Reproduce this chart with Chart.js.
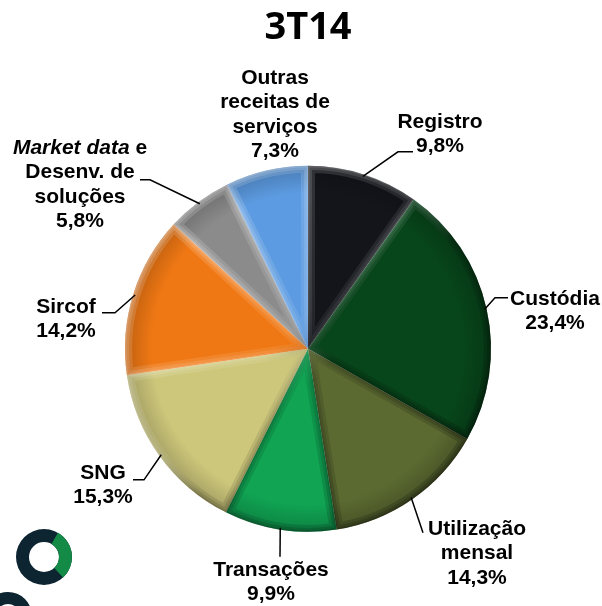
<!DOCTYPE html>
<html>
<head>
<meta charset="utf-8">
<script src="https://cdn.jsdelivr.net/npm/chart.js@4"></script>
<style>
  body { margin: 0; background: #fff; }
</style>
</head>
<body>
<canvas id="chart3T14" width="602" height="606"></canvas>
<script>
  // dados do gráfico (participação na receita, %)
  const categories = ['Registro', 'Custódia', 'Utilização mensal', 'Transações', 'SNG', 'Sircof',
    'Market data e Desenv. de soluções', 'Outras receitas de serviços'];
  const shares = [9.8, 23.4, 14.3, 9.9, 15.3, 14.2, 5.8, 7.3];
  // texto dos rótulos, *...* = itálico
  const labelLines = [
    ['Registro'],
    ['Custódia'],
    ['Utilização', 'mensal'],
    ['Transações'],
    ['SNG'],
    ['Sircof'],
    ['*Market data* e', 'Desenv. de', 'soluções'],
    ['Outras', 'receitas de', 'serviços']
  ];

  const sliceColors = ['#13151b', '#07451a', '#5b6a31', '#10a453', '#cdc77b', '#f07814', '#8b8b8b', '#5c9be1'];

  // posição dos rótulos relativa ao centro da pizza (texto e linhas de chamada)
  const labelPos = [
    { tx: 132, ty: -227, line: [[90, -197], [105, -197]] },
    { tx: 247, ty: -50, line: [[187, -51], [200, -51]] },
    { tx: 169, ty: 180, line: [[115, 184]] },
    { tx: -37, ty: 221, line: [[-28, 208]] },
    { tx: -205, ty: 124, line: [[-164, 131], [-175, 131]] },
    { tx: -242, ty: -42, line: [[-193, -36], [-206, -36]] },
    { tx: -228, ty: -201, line: [[-158, -169], [-168, -169]] },
    { tx: -33, ty: -271, line: null }
  ];

  const fmt = v => v.toFixed(1).replace('.', ',') + '%';

  // efeito chanfrado nas fatias
  const bevelPlugin = {
    id: 'bevel',
    afterDatasetsDraw(chart) {
      const ctx = chart.ctx;
      const arcs = chart.getDatasetMeta(0).data;
      arcs.forEach(arc => {
        const { x, y, startAngle, endAngle, outerRadius: r } = arc;
        const path = () => {
          ctx.beginPath();
          ctx.moveTo(x, y);
          ctx.arc(x, y, r, startAngle, endAngle);
          ctx.closePath();
        };
        ctx.save();
        path();
        ctx.clip();
        const rad = ctx.createRadialGradient(x, y, r * 0.85, x, y, r);
        rad.addColorStop(0, 'rgba(0,0,0,0)');
        rad.addColorStop(1, 'rgba(0,0,0,0.2)');
        ctx.fillStyle = rad;
        ctx.fillRect(x - r, y - r, 2 * r, 2 * r);
        const lin = ctx.createLinearGradient(x - r, y - r, x + r, y + r);
        lin.addColorStop(0, 'rgba(255,255,255,0.5)');
        lin.addColorStop(0.45, 'rgba(255,255,255,0.2)');
        lin.addColorStop(0.55, 'rgba(0,0,0,0.25)');
        lin.addColorStop(1, 'rgba(0,0,0,0.5)');
        ctx.strokeStyle = lin;
        ctx.lineJoin = 'miter';
        [14, 8, 3].forEach(w => {
          ctx.globalAlpha = 0.4;
          ctx.lineWidth = w;
          path();
          ctx.stroke();
        });
        ctx.restore();
      });
    }
  };

  // rótulos externos com linhas de chamada
  const outLabels = {
    id: 'outLabels',
    afterDraw(chart) {
      const ctx = chart.ctx;
      const arcs = chart.getDatasetMeta(0).data;
      const lh = 24.5;
      const fontN = 'bold 21px "Liberation Sans", Arial, sans-serif';
      const fontI = 'italic bold 21px "Liberation Sans", Arial, sans-serif';
      ctx.save();
      arcs.forEach((arc, i) => {
        const { x, y, startAngle, endAngle, outerRadius: r } = arc;
        const p = labelPos[i];
        if (p.line) {
          const mid = (startAngle + endAngle) / 2;
          ctx.beginPath();
          ctx.moveTo(x + Math.cos(mid) * (r - 2), y + Math.sin(mid) * (r - 2));
          p.line.forEach(pt => ctx.lineTo(x + pt[0], y + pt[1]));
          ctx.strokeStyle = '#000';
          ctx.lineWidth = 1.5;
          ctx.stroke();
        }
        const lines = labelLines[i].concat([fmt(shares[i])]);
        ctx.fillStyle = '#000';
        ctx.textBaseline = 'middle';
        ctx.textAlign = 'left';
        lines.forEach((ln, k) => {
          const segs = ln.split('*').map((t, j) => ({ t, it: j % 2 === 1 })).filter(s => s.t);
          let total = 0;
          segs.forEach(s => { ctx.font = s.it ? fontI : fontN; s.w = ctx.measureText(s.t).width; total += s.w; });
          let cx = x + p.tx - total / 2;
          const cy = y + p.ty + k * lh;
          segs.forEach(s => {
            ctx.font = s.it ? fontI : fontN;
            ctx.fillText(s.t, cx, cy);
            cx += s.w;
          });
        });
      });
      ctx.restore();
    }
  };

  // logotipo no canto inferior esquerdo
  const logoPlugin = {
    id: 'logo',
    afterDraw(chart) {
      const ctx = chart.ctx;
      const ring = (cx, cy, ro, ri, a0, a1, color) => {
        ctx.beginPath();
        ctx.arc(cx, cy, ro, a0, a1);
        ctx.arc(cx, cy, ri, a1, a0, true);
        ctx.closePath();
        ctx.fillStyle = color;
        ctx.fill();
      };
      const d = Math.PI / 180;
      ctx.save();
      ring(44, 557, 28, 15, 0, 2 * Math.PI, '#0d2531');
      ring(44, 557, 28, 15, -60 * d, 47 * d, '#138a45');
      ring(8, 616, 24, 12, 0, 2 * Math.PI, '#0d2531');
      ctx.restore();
    }
  };

  const ctx = document.getElementById('chart3T14').getContext('2d');
  new Chart(ctx, {
    type: 'pie',
    data: {
      labels: categories,
      datasets: [{
        data: shares,
        backgroundColor: sliceColors,
        borderWidth: 0
      }]
    },
    options: {
      responsive: false,
      animation: false,
      layout: { padding: { left: 125, right: 111, top: 0, bottom: 74 } },
      plugins: {
        legend: { display: false },
        tooltip: { enabled: false },
        title: {
          display: true,
          text: '3T14',
          color: '#000',
          font: { family: '"Open Sans", sans-serif', size: 38, weight: 'bold', lineHeight: 1.2 },
          padding: { top: 5, bottom: 115 }
        }
      }
    },
    plugins: [bevelPlugin, outLabels, logoPlugin]
  });
</script>
</body>
</html>
